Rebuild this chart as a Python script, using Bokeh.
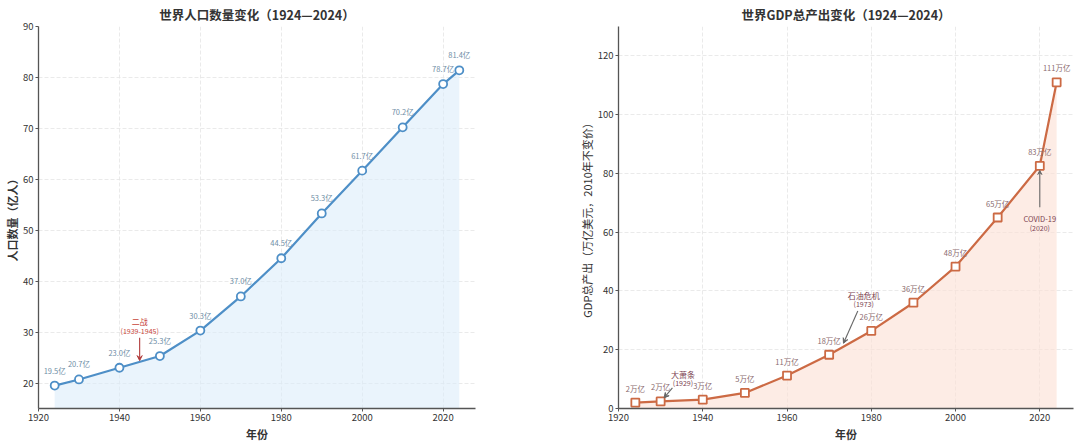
from bokeh.plotting import figure
from bokeh.layouts import row
from bokeh.models import ColumnDataSource, Arrow, VeeHead, Range1d, FixedTicker, Label, LabelSet
from bokeh.core.properties import value
from bokeh.embed import file_html
from bokeh.resources import INLINE

FONT = "Noto Sans CJK SC"

# ---------------- data ----------------
years = [1924, 1930, 1940, 1950, 1960, 1970, 1980, 1990, 2000, 2010, 2020, 2024]
population = [19.5, 20.7, 23.0, 25.3, 30.3, 37.0, 44.5, 53.3, 61.7, 70.2, 78.7, 81.4]
pop_labels = ["19.5亿", "20.7亿", "23.0亿", "25.3亿", "30.3亿", "37.0亿", "44.5亿",
              "53.3亿", "61.7亿", "70.2亿", "78.7亿", "81.4亿"]
gdp = [2.0, 2.4, 3.0, 5.3, 11.2, 18.3, 26.4, 36.0, 48.3, 65.0, 82.6, 111.0]
gdp_labels = ["2万亿", "2万亿", "3万亿", "5万亿", "11万亿", "18万亿", "26万亿",
              "36万亿", "48万亿", "65万亿", "83万亿", "111万亿"]

x_ticks = [1920, 1940, 1960, 1980, 2000, 2020]
pop_ticks = [20, 30, 40, 50, 60, 70, 80, 90]
gdp_ticks = [0, 20, 40, 60, 80, 100, 120]

# annotations: (title, subtitle, text x, text y, arrow start x, y, arrow end x, y)
ww2 = ("二战", "(1939-1945)", 1945, 32.0, 1945, 28.9, 1945, 24.4)
depression = ("大萧条", "(1929)", 1935.3, 11.6, 1932.8, 7.0, 1930.8, 3.6)
oil = ("石油危机", "(1973)", 1978.2, 38.6, 1976.8, 33.2, 1973.4, 22.2)
covid = ("COVID-19", "(2020)", 2020, 64.6, 2020, 68.5, 2020, 81.0)

BLUE = "#4e8fc7"
ORANGE = "#cc6a44"


def style(p, yticks, ylabel, ylabel_style):
    p.outline_line_color = None
    p.title.text_font = FONT
    p.title.text_font_size = "12.5px"
    p.title.text_font_style = "bold"
    p.title.text_color = "#333333"
    p.title.align = "center"
    p.title.standoff = 5
    for ax in (p.xaxis[0], p.yaxis[0]):
        ax.axis_line_color = "#555555"
        ax.axis_line_width = 1.3
        ax.major_tick_line_color = "#555555"
        ax.major_tick_out = 3
        ax.major_tick_in = 0
        ax.minor_tick_line_color = None
        ax.major_label_text_font = FONT
        ax.major_label_text_font_size = "9.5px"
        ax.major_label_text_color = "#333333"
        ax.axis_label_text_font = FONT
        ax.axis_label_text_font_size = "11px"
        ax.axis_label_text_font_style = "bold"
        ax.axis_label_text_color = "#333333"
        ax.axis_label_standoff = 2
        ax.major_label_standoff = 2
    p.yaxis[0].axis_label_standoff = 0
    p.yaxis[0].axis_label_text_font_style = ylabel_style
    p.xaxis.ticker = FixedTicker(ticks=x_ticks)
    p.yaxis.ticker = FixedTicker(ticks=yticks)
    p.xaxis.axis_label = "年份"
    p.yaxis.axis_label = ylabel
    p.grid.grid_line_color = "#e4e4e4"
    p.grid.grid_line_width = 0.8
    p.grid.grid_line_dash = "4 2"


def add_annot(p, ann, tcolor, acolor):
    t1, t2, tx, ty, ax0, ay0, ax1, ay1 = ann
    p.add_layout(Label(x=tx, y=ty, text=t1, text_font=FONT, text_font_size="8px",
                       text_color=tcolor, text_align="center", text_baseline="middle"))
    p.add_layout(Label(x=tx, y=ty, y_offset=-9, text=t2, text_font=FONT, text_font_size="7px",
                       text_color=tcolor, text_align="center", text_baseline="middle"))
    p.add_layout(Arrow(end=VeeHead(size=5, line_color=acolor, fill_color=acolor, line_width=1),
                       x_start=ax0, y_start=ay0, x_end=ax1, y_end=ay1,
                       line_color=acolor, line_width=1.1))


# ---------------- left: population ----------------
src1 = ColumnDataSource(dict(x=years, y=population, lab=pop_labels))
p1 = figure(width=540, height=444, output_backend="svg", toolbar_location=None,
            title="世界人口数量变化（1924—2024）",
            x_range=Range1d(1920, 2028), y_range=Range1d(15, 90),
            min_border_left=0, min_border_right=65, min_border_top=4, min_border_bottom=0)
style(p1, pop_ticks, "人口数量（亿人）", "bold")
p1.varea(x="x", y1=15, y2="y", source=src1, fill_color="#d8ebfa", fill_alpha=0.55)
p1.line(x="x", y="y", source=src1, line_color=BLUE, line_width=2.2)
p1.scatter(x="x", y="y", source=src1, marker="circle", size=8,
           fill_color="white", line_color=BLUE, line_width=1.8)
p1.add_layout(LabelSet(x="x", y="y", text="lab", source=src1, y_offset=10,
                       text_font=value(FONT), text_font_size=value("7.5px"),
                       text_color=value("#6f8ea6"),
                       text_align="center", text_baseline="bottom"))
add_annot(p1, ww2, "#c8453a", "#b03a3a")

# ---------------- right: GDP ----------------
src2 = ColumnDataSource(dict(x=years, y=gdp, lab=gdp_labels))
p2 = figure(width=536, height=444, output_backend="svg", toolbar_location=None,
            title="世界GDP总产出变化（1924—2024）",
            x_range=Range1d(1920, 2028), y_range=Range1d(0, 130),
            min_border_left=78, min_border_right=3, min_border_top=4, min_border_bottom=0)
style(p2, gdp_ticks, "GDP总产出（万亿美元，2010年不变价）", "normal")
p2.varea(x="x", y1=0, y2="y", source=src2, fill_color="#fbe0d4", fill_alpha=0.6)
p2.line(x="x", y="y", source=src2, line_color=ORANGE, line_width=2.2)
p2.scatter(x="x", y="y", source=src2, marker="square", size=8,
           fill_color="white", line_color=ORANGE, line_width=1.8)
p2.add_layout(LabelSet(x="x", y="y", text="lab", source=src2, y_offset=9,
                       text_font=value(FONT), text_font_size=value("7.5px"),
                       text_color=value("#8a6a6e"),
                       text_align="center", text_baseline="bottom"))
add_annot(p2, depression, "#7b3f50", "#666666")
add_annot(p2, oil, "#7b3f50", "#666666")
t1, t2, tx, ty, ax0, ay0, ax1, ay1 = covid
p2.add_layout(Label(x=tx, y=ty, text=t1, text_font=FONT, text_font_size="7.5px",
                    text_color="#7b3f50", text_align="center", text_baseline="middle"))
p2.add_layout(Label(x=tx, y=ty, y_offset=-9, text=t2, text_font=FONT, text_font_size="7px",
                    text_color="#7b3f50", text_align="center", text_baseline="middle"))
p2.add_layout(Arrow(end=VeeHead(size=4, line_color="#666666", fill_color="#666666"),
                    x_start=ax0, y_start=ay0, x_end=ax1, y_end=ay1,
                    line_color="#666666", line_width=1.1))

layout = row(p1, p2)
open("out.html", "w").write(file_html(layout, INLINE))
